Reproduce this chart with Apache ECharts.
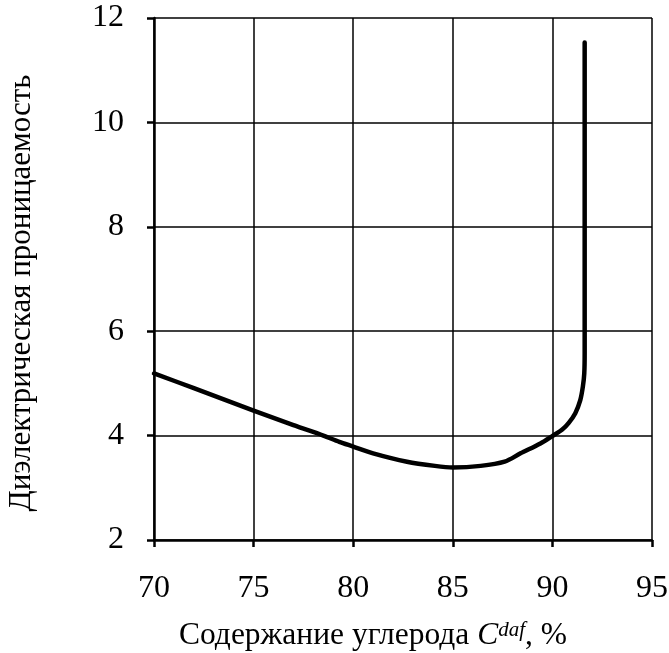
<!DOCTYPE html>
<html>
<head>
<meta charset="utf-8">
<script src="https://cdn.jsdelivr.net/npm/echarts@6/dist/echarts.min.js"></script>
<style>
html,body{margin:0;padding:0;background:#fff;}
#chart{width:669px;height:653px;}
</style>
</head>
<body>
<div id="chart"></div>
<script>
const carbon = [70, 72, 75, 77, 78.5, 79.3, 80, 81, 82.7, 84.1, 85, 86.4, 87.6, 88.4, 89.4, 90.03, 90.48, 90.81, 91.15, 91.4, 91.53, 91.6, 91.62, 91.62, 91.62, 91.62];
const permittivity = [5.19, 4.91, 4.48, 4.2, 4.0, 3.88, 3.79, 3.66, 3.50, 3.42, 3.39, 3.42, 3.50, 3.66, 3.85, 4.0, 4.11, 4.24, 4.43, 4.68, 4.94, 5.19, 5.58, 6.0, 9.0, 11.53];
const xTicks = [70, 75, 80, 85, 90, 95];
const yTicks = [2, 4, 6, 8, 10, 12];

const points = carbon.map((x, i) => [x, permittivity[i]]);
const font = '"Liberation Serif", "Times New Roman", serif';

const chart = echarts.init(document.getElementById('chart'));
chart.setOption({
  animation: false,
  backgroundColor: '#fff',
  grid: { left: 154, right: 17, top: 18, bottom: 113, containLabel: false, outerBoundsMode: 'none' },
  xAxis: {
    type: 'value',
    min: xTicks[0], max: xTicks[xTicks.length - 1], interval: 5,
    axisLine: { show: true, onZero: false, lineStyle: { color: '#000', width: 2.5 } },
    axisTick: { show: true, inside: false, length: 7, lineStyle: { color: '#000', width: 2.5 } },
    axisLabel: { color: '#000', fontFamily: font, fontSize: 32, margin: 33 },
    splitLine: { show: true, lineStyle: { color: '#000', width: 1.5 } },
    name: '{n|Содержание углерода }{c|C}{s|daf}{n|, %}',
    nameLocation: 'middle',
    nameGap: 80,
    nameTextStyle: {
      padding: [0, 60, 0, 0],
      rich: {
        n: { fontFamily: font, fontSize: 31.5, color: '#000' },
        c: { fontFamily: font, fontSize: 31.5, fontStyle: 'italic', color: '#000' },
        s: { fontFamily: font, fontSize: 21, fontStyle: 'italic', color: '#000', verticalAlign: 'top', padding: [0, 0, 10, 0] }
      }
    }
  },
  yAxis: {
    type: 'value',
    min: yTicks[0], max: yTicks[yTicks.length - 1], interval: 2,
    axisLine: { show: true, onZero: false, lineStyle: { color: '#000', width: 2.5 } },
    axisTick: { show: true, inside: false, length: 7, lineStyle: { color: '#000', width: 2.5 } },
    axisLabel: { color: '#000', fontFamily: font, fontSize: 32, margin: 30 },
    splitLine: { show: true, lineStyle: { color: '#000', width: 1.5 } },
    name: 'Диэлектрическая проницаемость',
    nameLocation: 'middle',
    nameGap: 117,
    nameTextStyle: { fontFamily: font, fontSize: 31, color: '#000', padding: [0, 28, 0, 0] }
  },
  series: [{
    type: 'line',
    data: points,
    showSymbol: false,
    smooth: 0.3,
    lineStyle: { color: '#000', width: 4.5, cap: 'round', join: 'round' },
    z: 5
  }]
});
</script>
</body>
</html>
